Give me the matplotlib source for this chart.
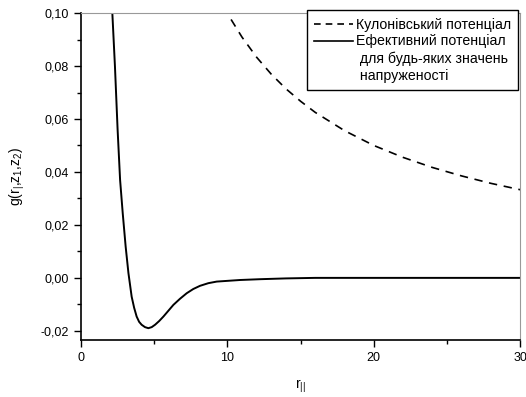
import matplotlib
matplotlib.use('Agg')
import matplotlib.pyplot as plt
from matplotlib.lines import Line2D
from matplotlib.ticker import FuncFormatter, MultipleLocator

plt.rcParams['font.family'] = ['Liberation Sans', 'DejaVu Sans']
plt.rcParams['mathtext.default'] = 'regular'
plt.rcParams['font.size'] = 9

# --- дані ---
r_coul = [10.25, 11, 12, 13, 14, 15, 16, 18, 20, 22, 24, 26, 28, 30]
g_coul = [0.0976, 0.0909, 0.0833, 0.0769, 0.0714, 0.0667, 0.0625, 0.0556,
          0.050, 0.0455, 0.0417, 0.0385, 0.0357, 0.0333]

r_eff = [2.14, 2.32, 2.50, 2.67, 2.85, 3.05, 3.24, 3.46, 3.63, 3.80, 3.97,
         4.14, 4.37, 4.60, 4.83, 5.06, 5.34, 5.63, 5.97, 6.31, 6.76, 7.22,
         7.67, 8.13, 8.70, 9.27, 10.87, 12.23, 14.0, 16.0, 20.0, 25.0, 30.0]
g_eff = [0.100, 0.0797, 0.056, 0.037, 0.0244, 0.0118, 0.0018, -0.0071,
         -0.0113, -0.0146, -0.0166, -0.0177, -0.0186, -0.0190, -0.0186,
         -0.0177, -0.0163, -0.0146, -0.0124, -0.0102, -0.0079, -0.0058,
         -0.0042, -0.0030, -0.0020, -0.0014, -0.0008, -0.0005, -0.0002,
         0.0, 0.0, 0.0, 0.0]

fig = plt.figure(figsize=(5.26, 3.97), dpi=100)
ax = fig.add_axes([0.154, 0.144, 0.835, 0.823])

ax.plot(r_coul, g_coul, 'k--', lw=1.2, dashes=(5, 4))
ax.plot(r_eff, g_eff, 'k-', lw=1.4)

ax.set_xlim(0, 30)
ax.set_ylim(-0.0234, 0.10)
ax.xaxis.set_major_locator(MultipleLocator(10))
ax.xaxis.set_minor_locator(MultipleLocator(5))
ax.yaxis.set_major_locator(MultipleLocator(0.02))
ax.yaxis.set_minor_locator(MultipleLocator(0.01))
ax.yaxis.set_major_formatter(FuncFormatter(lambda v, p: ('%.2f' % v).replace('.', ',')))
ax.tick_params(which='both', direction='out', width=1)
ax.tick_params(which='major', length=5)
ax.tick_params(which='minor', length=3)

for s in ['top', 'right']:
    ax.spines[s].set_color('0.6')
for s in ['left', 'bottom']:
    ax.spines[s].set_linewidth(1.2)

ax.set_xlabel('r$_{||}$', fontsize=10, labelpad=10)
ax.set_ylabel('g(r$_{|}$,z$_1$,z$_2$)', fontsize=10, labelpad=10)

handles = [Line2D([], [], color='k', ls='--', lw=1.2, dashes=(4, 3)),
           Line2D([], [], color='k', ls='-', lw=1.2),
           Line2D([], [], color='none'),
           Line2D([], [], color='none')]
labels = ['Кулонівський потенціал', 'Ефективний потенціал',
          ' для будь-яких значень', ' напруженості']
leg = ax.legend(handles, labels, loc='upper right', fontsize=10.2,
                bbox_to_anchor=(0.996, 1.01), borderaxespad=0,
                handlelength=2.7, handletextpad=0.2, fancybox=False,
                framealpha=1, labelspacing=0.2, borderpad=0.55)
leg.get_frame().set_edgecolor('black')
leg.get_frame().set_linewidth(1.0)

fig.savefig('out.png', dpi=100)
